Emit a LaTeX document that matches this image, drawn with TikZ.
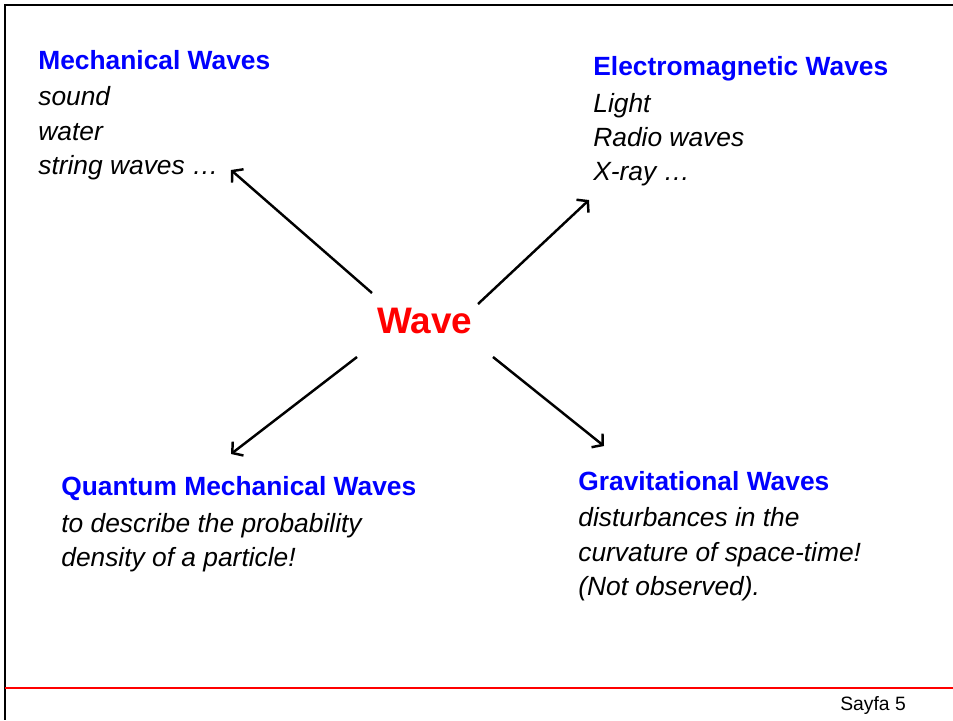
\documentclass[tikz,border=0pt]{standalone}
\usepackage{fontspec}
\setmainfont{Liberation Sans}
\definecolor{wvblue}{RGB}{0,0,255}
\definecolor{wvred}{RGB}{255,0,0}
\usetikzlibrary{arrows.meta,positioning}

\begin{document}
\begin{tikzpicture}[x=0.02cm, y=-0.02cm,
  head/.style={anchor=west, inner sep=0pt, font=\fontsize{15}{18}\selectfont\bfseries, text=wvblue},
  items/.style={inner sep=0pt, align=left, font=\fontsize{15}{19.6}\selectfont\itshape},
  arr/.style={-{Straight Barb[length=4.2pt, width=10pt]}, line width=1.4pt}]
  \useasboundingbox (0,0) rectangle (953,720);

  %--- slide frame ---
  \draw[line width=1.3pt] (953,5) -- (5,5) -- (5,720);
  \draw[wvred, line width=0.6pt] (5,688) -- (953,688);

  %--- centre ---
  \node[font=\fontsize{21}{25}\selectfont\bfseries, text=wvred] (wave) at (425,321) {Wave};

  % Mechanical
  \node[head] (mechhead) at (38,60) {Mechanical Waves};
  \node[items, below right=9.6pt and 0pt of mechhead.base west] (mechlist) {sound\\water\\string waves …};

  % Electromagnetic
  \node[head] (emhead) at (593,69) {Electromagnetic Waves};
  \node[items, below right=9.6pt and 0pt of emhead.base west] (emlist) {Light\\Radio waves\\X-ray …};

  % Quantum
  \node[head] (qmhead) at (61,489) {Quantum Mechanical Waves};
  \node[items, below right=9.6pt and 0pt of qmhead.base west] (qmlist) {to describe the probability\\density of a particle!};

  % Gravitational
  \node[head] (gvhead) at (578,481) {Gravitational Waves};
  \node[items, below right=9.6pt and 0pt of gvhead.base west] (gvlist) {disturbances in the\\curvature of space-time!\\(Not observed).};

  %--- arrow tips ---
  \coordinate (mechtip) at (231,170);
  \coordinate (emtip) at (589,200);
  \coordinate (qmtip) at (231,454);
  \coordinate (gvtip) at (604,446);

  \draw[arr] ([shift={(-53,-28)}]wave.center) -- (mechtip);
  \draw[arr] ([shift={(53,-17)}]wave.center) -- (emtip);
  \draw[arr] ([shift={(-68,36)}]wave.center) -- (qmtip);
  \draw[arr] ([shift={(68,36)}]wave.center) -- (gvtip);

  %--- footer ---
  \node[font=\fontsize{11}{13}\selectfont, anchor=east] (page) at (912,706) {Sayfa 5};
\end{tikzpicture}
\end{document}
